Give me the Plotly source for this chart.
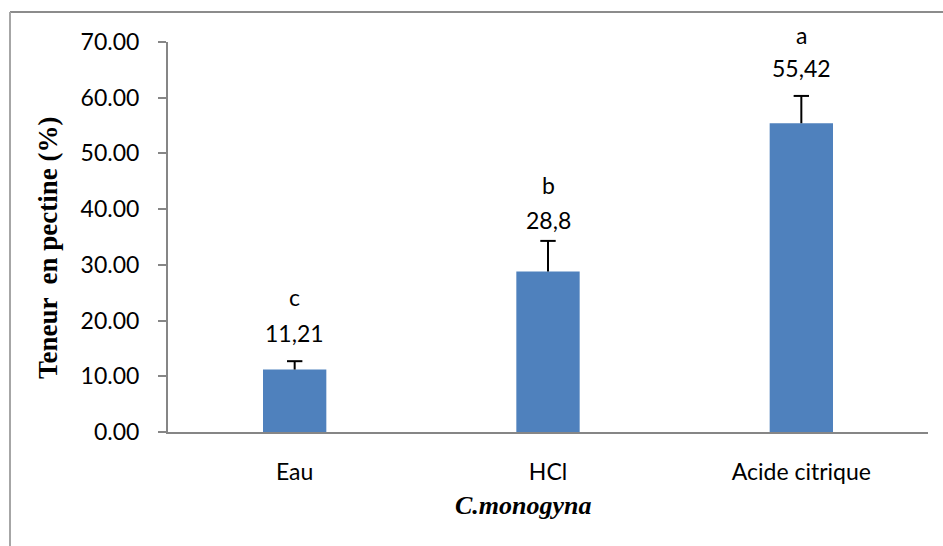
import plotly.graph_objects as go

# Pectin content by extraction solvent (C. monogyna)
categories = ["Eau", "HCl", "Acide citrique"]
values = [11.21, 28.8, 55.42]
errors = [1.5, 5.5, 4.9]
value_labels = ["11,21", "28,8", "55,42"]
group_letters = ["c", "b", "a"]
y_ticks = [0, 10, 20, 30, 40, 50, 60, 70]

# plot area in pixels
W, H = 943, 546
L, R, T, B = 168, 15, 42, 114
pw, ph = W - L - R, H - T - B

def px_x(x):
    return (x - L) / pw

def px_y(y):
    return (H - B - y) / ph

fig = go.Figure()
fig.add_trace(go.Bar(
    x=categories,
    y=values,
    width=0.25,
    marker=dict(color="#4F81BD", line=dict(width=0)),
    hoverinfo="skip",
))

# upper-only error bars: stem from bar top plus a cap
stem_x, stem_y = [], []
for cat, v, e in zip(categories, values, errors):
    stem_x += [cat, cat, None]
    stem_y += [v, v + e, None]
fig.add_trace(go.Scatter(x=stem_x, y=stem_y, mode="lines",
                         line=dict(color="black", width=2), hoverinfo="skip"))
fig.add_trace(go.Scatter(x=categories, y=[v + e for v, e in zip(values, errors)],
                         mode="markers", hoverinfo="skip",
                         marker=dict(symbol="line-ew", size=11,
                                     line=dict(color="black", width=2))))

label_font = dict(family="Lato", size=23, color="black")
num_shift = [28, 21, 28]
let_shift = [64, 56, 61]
annotations = []
for i, cat in enumerate(categories):
    top = values[i] + errors[i]
    annotations.append(dict(x=cat, y=top, text=value_labels[i], showarrow=False,
                            xref="x", yref="y", yanchor="middle", yshift=num_shift[i],
                            font=label_font))
    annotations.append(dict(x=cat, y=top, text=group_letters[i], showarrow=False,
                            xref="x", yref="y", yanchor="middle", yshift=let_shift[i],
                            font=label_font))

# axis titles
annotations.append(dict(x=px_x(523), y=px_y(505), xref="paper", yref="paper",
                        text="<b><i>C.monogyna</i></b>", showarrow=False,
                        xanchor="center", yanchor="middle",
                        font=dict(family="Liberation Serif", size=26, color="black")))
annotations.append(dict(x=px_x(48), y=px_y(248), xref="paper", yref="paper",
                        text="<b>Teneur  en pectine (%)</b>", showarrow=False, textangle=-90,
                        xanchor="center", yanchor="middle",
                        font=dict(family="Liberation Serif", size=27, color="black")))

# outer chart frame
shapes = [
    dict(type="line", xref="paper", yref="paper", x0=px_x(10), x1=px_x(950),
         y0=px_y(12), y1=px_y(12), line=dict(color="#8c8c8c", width=2)),
    dict(type="line", xref="paper", yref="paper", x0=px_x(10), x1=px_x(10),
         y0=px_y(12), y1=px_y(560), line=dict(color="#a6a6a6", width=2)),
]

fig.update_layout(
    width=W, height=H,
    margin=dict(l=L, r=R, t=T, b=B),
    paper_bgcolor="white", plot_bgcolor="white",
    showlegend=False,
    annotations=annotations,
    shapes=shapes,
)
fig.update_xaxes(
    type="category", range=[-0.5, 2.5],
    showline=True, linecolor="#868686", linewidth=2,
    ticks="", showgrid=False,
    tickfont=dict(family="Lato", size=23, color="black"),
    ticklabelstandoff=18,
)
fig.update_yaxes(
    range=[0, 70], tickvals=y_ticks,
    ticktext=[f"{v:.2f}" for v in y_ticks],
    showline=True, linecolor="#868686", linewidth=2,
    ticks="outside", ticklen=8, tickcolor="#868686", tickwidth=2,
    showgrid=False, zeroline=False,
    tickfont=dict(family="Lato", size=23, color="black"),
    ticklabelstandoff=14,
)

fig.write_html("out.html")
